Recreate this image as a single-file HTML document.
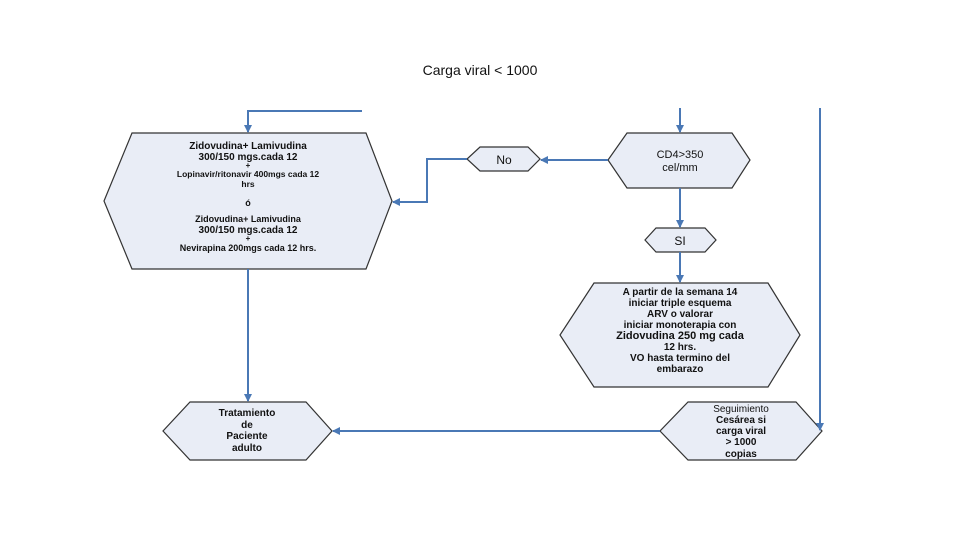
<!DOCTYPE html>
<html><head><meta charset="utf-8"><style>
body{margin:0;background:#fff;width:960px;height:540px;overflow:hidden}
text{font-family:"Liberation Sans",sans-serif;font-weight:bold;fill:#111;text-anchor:middle}
</style></head><body>
<svg width="960" height="540" viewBox="0 0 960 540">
<defs><marker id="a" markerWidth="8" markerHeight="8" refX="7" refY="4" orient="auto" markerUnits="userSpaceOnUse"><path d="M0,0 L8,4 L0,8 z" fill="#4a78b5"/></marker></defs>
<text x="480" y="75" style="font-weight:normal;font-size:14px">Carga viral &lt; 1000</text>
<g fill="#e9edf6" stroke="#333" stroke-width="1.2">
<polygon points="132,133 366,133 392,201 366,269 132,269 104,201"/>
<polygon points="480,147 528,147 540,159 528,171 480,171 467,159"/>
<polygon points="627,133 732,133 750,160 732,188 627,188 608,160"/>
<polygon points="656,228 705,228 716,240 705,252 656,252 645,240"/>
<polygon points="594,283 768,283 800,335 768,387 594,387 560,335"/>
<polygon points="688,402 796,402 822,431 796,460 688,460 660,431"/>
<polygon points="190,402 306,402 332,431 306,460 190,460 163,431"/>
</g>
<g stroke="#4a78b5" stroke-width="2" fill="none">
<polyline points="362,111 248,111 248,132" marker-end="url(#a)"/>
<line x1="608" y1="160" x2="541" y2="160" marker-end="url(#a)"/>
<polyline points="467,159 427,159 427,202 393,202" marker-end="url(#a)"/>
<line x1="680" y1="108" x2="680" y2="132" marker-end="url(#a)"/>
<line x1="680" y1="188" x2="680" y2="227" marker-end="url(#a)"/>
<line x1="680" y1="252" x2="680" y2="282" marker-end="url(#a)"/>
<line x1="820" y1="108" x2="820" y2="430" marker-end="url(#a)"/>
<line x1="660" y1="431" x2="333" y2="431" marker-end="url(#a)"/>
<line x1="248" y1="269" x2="248" y2="401" marker-end="url(#a)"/>
</g>
<g font-size="10">
<text x="248" y="149">Zidovudina+ Lamivudina</text>
<text x="248" y="160">300/150 mgs.cada 12</text>
<text x="248" y="168" font-size="8">+</text>
<text x="248" y="177" font-size="8.5">Lopinavir/ritonavir 400mgs cada 12</text>
<text x="248" y="187" font-size="8.5">hrs</text>
<text x="248" y="206" font-size="9">ó</text>
<text x="248" y="222" font-size="9">Zidovudina+ Lamivudina</text>
<text x="248" y="233">300/150 mgs.cada 12</text>
<text x="248" y="241" font-size="8">+</text>
<text x="248" y="251" font-size="9">Nevirapina 200mgs cada 12 hrs.</text>
<text x="504" y="164" font-size="12" style="font-weight:normal">No</text>
<text x="680" y="158" font-size="11" style="font-weight:normal">CD4&gt;350</text>
<text x="680" y="171" font-size="11" style="font-weight:normal">cel/mm</text>
<text x="680" y="245" font-size="12" style="font-weight:normal">SI</text>
<text x="680" y="295">A partir de la semana 14</text>
<text x="680" y="306">iniciar triple esquema</text>
<text x="680" y="317">ARV o valorar</text>
<text x="680" y="328">iniciar monoterapia con</text>
<text x="680" y="339" font-size="11">Zidovudina 250 mg cada</text>
<text x="680" y="350">12 hrs.</text>
<text x="680" y="361">VO hasta termino del</text>
<text x="680" y="372">embarazo</text>
<text x="741" y="412" style="font-weight:normal">Seguimiento</text>
<text x="741" y="423">Cesárea si</text>
<text x="741" y="434">carga viral</text>
<text x="741" y="445">&gt; 1000</text>
<text x="741" y="457">copias</text>
<text x="247" y="416">Tratamiento</text>
<text x="247" y="428">de</text>
<text x="247" y="439">Paciente</text>
<text x="247" y="451">adulto</text>
</g>
</svg>
</body></html>
